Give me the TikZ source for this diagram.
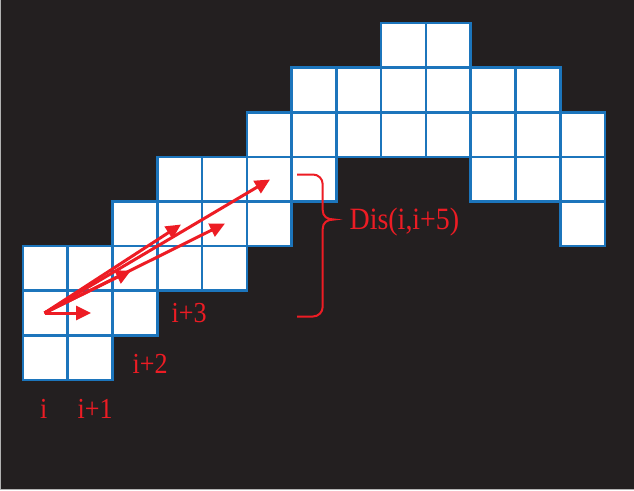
\documentclass[tikz,border=0pt]{standalone}
\usepackage{fontspec}
\newfontfamily\labfont[FakeStretch=0.9]{Liberation Serif}
\usetikzlibrary{arrows.meta}
\definecolor{bgdark}{HTML}{231F20}
\definecolor{cellblue}{HTML}{1C75BC}
\definecolor{arrred}{HTML}{ED1C24}
\tikzset{
  cellbox/.style={fill=white, draw=cellblue, line width=2.6pt},
  vecarrow/.style={draw=arrred, line width=3pt, -{Triangle[length=15pt,width=14pt]}},
  lab/.style={text=arrred, font=\labfont\fontsize{29pt}{32pt}\selectfont, inner sep=0pt, anchor=base west},
  biglab/.style={lab, font=\labfont\fontsize{31pt}{34pt}\selectfont},
  bracepath/.style={draw=arrred, line width=2pt}
}
\begin{document}
\begin{tikzpicture}[x=1pt,y=-1pt]
\fill[bgdark] (0,0) rectangle (634,490);
\useasboundingbox (0,0) rectangle (634,490);
\draw[gray!60, line width=1.2pt] (0.6,0) -- (0.6,489.4) -- (634,489.4);
% grid cells (col,row)
\foreach \c/\r in {8/0,9/0,
  6/1,7/1,8/1,9/1,10/1,11/1,
  5/2,6/2,7/2,8/2,9/2,10/2,11/2,12/2,
  3/3,4/3,5/3,6/3,10/3,11/3,12/3,
  2/4,3/4,4/4,5/4,12/4,
  0/5,1/5,2/5,3/5,4/5,
  0/6,1/6,2/6,
  0/7,1/7}{
  \path[cellbox] ({23+\c*44.77},{23+\r*44.63}) rectangle ({23+(\c+1)*44.77},{23+(\r+1)*44.63});
}
% arrow coordinates
\coordinate (s) at (44.5,313);
\coordinate (t1) at (91,313);
\coordinate (t2) at (131,270.5);
\coordinate (t3) at (181,224.5);
\coordinate (t4) at (225,223.5);
\coordinate (t5) at (270,179.5);
\draw[vecarrow] (s) -- (t4);
\draw[vecarrow] (s) -- (t2);
\draw[vecarrow] (s) -- (t3);
\draw[vecarrow] (s) -- (t5);
\draw[vecarrow] (s) -- (t1);
% brace
\coordinate (bt) at (297,174.5);
\coordinate (bb) at (297,316.5);
\coordinate (btip) at (334,219.5);
\draw[bracepath] (bt) -- (313,174.5) arc[start angle=-90,end angle=0,radius=9.7] -- (322.7,210)
  .. controls (322.7,216.5) and (327,219.5) .. (btip)
  .. controls (327,219.5) and (322.7,222.5) .. (322.7,229)
  -- (322.7,306.8) arc[start angle=0,end angle=90,radius=9.7] -- (bb);
% labels
\node[lab] (li) at (40,418) {i};
\node[lab] (li1) at (77.5,418) {i+1};
\node[lab] (li2) at (132.5,373) {i+2};
\node[lab] (li3) at (171.5,322) {i+3};
\node[biglab] (ldis) at (349.5,229) {Dis(i,i+5)};
\end{tikzpicture}
\end{document}
